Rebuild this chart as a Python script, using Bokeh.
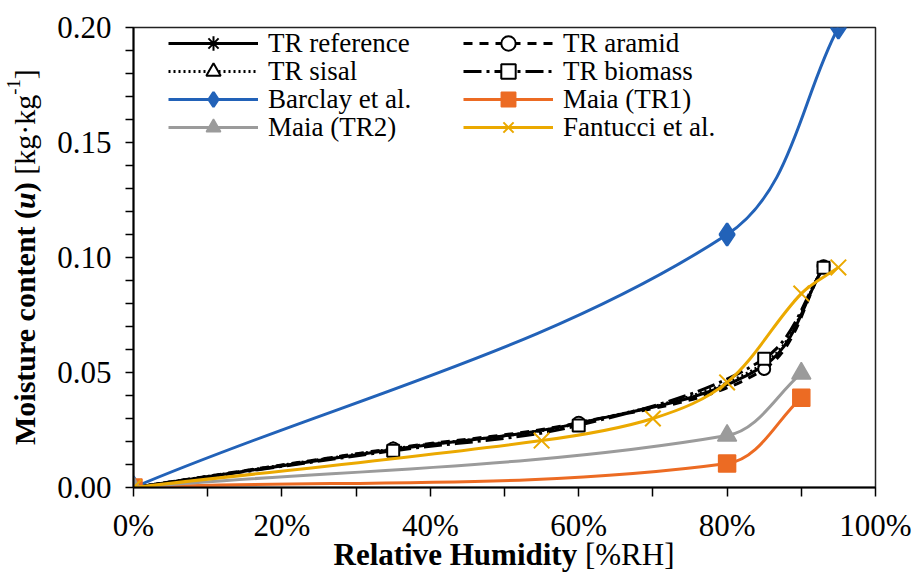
import math
from bokeh.plotting import figure
from bokeh.models import (ColumnDataSource, Legend, LegendItem, FixedTicker,
                          NumeralTickFormatter, Range1d, Div)
from bokeh.layouts import row, column
from bokeh.embed import file_html
from bokeh.resources import INLINE

# ---------------- data ----------------
rh_tr = [0.0, 0.35, 0.60, 0.85, 0.93]
u_tr_reference = [0.0, 0.0165, 0.0280, 0.0530, 0.0960]
u_tr_aramid = [0.0, 0.0170, 0.0282, 0.0515, 0.0962]
u_tr_sisal = [0.0, 0.0168, 0.0279, 0.0540, 0.0958]
u_tr_biomass = [0.0, 0.0160, 0.0270, 0.0560, 0.0955]

rh_barclay = [0.0, 0.80, 0.95]
u_barclay = [0.0, 0.110, 0.200]

rh_maia = [0.0, 0.80, 0.90]
u_maia_tr1 = [0.0, 0.0104, 0.0390]
u_maia_tr2 = [0.0, 0.0226, 0.0496]

rh_fantucci = [0.0, 0.55, 0.70, 0.80, 0.90, 0.95]
u_fantucci = [0.0, 0.0204, 0.0300, 0.0457, 0.0843, 0.0957]

x_ticks = [0.0, 0.2, 0.4, 0.6, 0.8, 1.0]
x_minor = [0.1, 0.3, 0.5, 0.7, 0.9]
y_ticks = [0.0, 0.05, 0.10, 0.15, 0.20]
y_minor = [0.01, 0.02, 0.03, 0.04, 0.06, 0.07, 0.08, 0.09,
           0.11, 0.12, 0.13, 0.14, 0.16, 0.17, 0.18, 0.19]

# ---------------- layout ----------------
YDIV_W = 52
FIG_W, FIG_H = 914 - YDIV_W, 547
XDIV_H = 572 - FIG_H
ML, MR, MT, MB = 133 - YDIV_W, 914 - 875, 27, FIG_H - 487
FW, FH = FIG_W - ML - MR, FIG_H - MT - MB
X0, X1, Y0, Y1 = 0.0, 1.0, 0.0, 0.20
SX, SY = FW / (X1 - X0), FH / (Y1 - Y0)

SERIF = "Liberation Serif"


def smooth_source(xs, ys):
    """Excel-like smoothed line: cubic bezier segments through the data points."""
    px = [x * SX for x in xs]
    py = [y * SY for y in ys]
    n = len(px)
    tang = []
    for i in range(n):
        a = max(i - 1, 0)
        b = min(i + 1, n - 1)
        dx, dy = px[b] - px[a], py[b] - py[a]
        L = math.hypot(dx, dy) or 1.0
        tang.append((dx / L, dy / L))
    d = dict(x0=[], y0=[], x1=[], y1=[], cx0=[], cy0=[], cx1=[], cy1=[])
    for i in range(n - 1):
        seg = math.hypot(px[i + 1] - px[i], py[i + 1] - py[i]) / 3.0
        c0x = px[i] + tang[i][0] * seg
        c0y = py[i] + tang[i][1] * seg
        c1x = px[i + 1] - tang[i + 1][0] * seg
        c1y = py[i + 1] - tang[i + 1][1] * seg
        d["x0"].append(xs[i]); d["y0"].append(ys[i])
        d["x1"].append(xs[i + 1]); d["y1"].append(ys[i + 1])
        d["cx0"].append(c0x / SX); d["cy0"].append(c0y / SY)
        d["cx1"].append(c1x / SX); d["cy1"].append(c1y / SY)
    return ColumnDataSource(d)


p = figure(width=FIG_W, height=FIG_H, output_backend="svg", toolbar_location=None,
           x_range=Range1d(X0, X1), y_range=Range1d(Y0, Y1),
           min_border_left=ML, min_border_right=MR, min_border_top=MT, min_border_bottom=MB)
p.xgrid.visible = False
p.ygrid.visible = False
p.outline_line_color = "#222222"
p.outline_line_width = 1.5
p.background_fill_color = "white"
p.border_fill_color = "white"

for ax in (p.xaxis[0], p.yaxis[0]):
    ax.axis_line_color = "black"
    ax.axis_line_width = 2
    ax.major_tick_line_color = "black"
    ax.minor_tick_line_color = "black"
    ax.major_tick_line_width = 1.5
    ax.minor_tick_line_width = 1.5
    ax.major_tick_in = 0
    ax.minor_tick_in = 0
    ax.major_label_text_font = SERIF
    ax.major_label_text_font_size = "31px"
    ax.major_label_text_color = "black"

p.xaxis[0].ticker = FixedTicker(ticks=x_ticks, minor_ticks=x_minor)
p.xaxis[0].formatter = NumeralTickFormatter(format="0%")
p.xaxis[0].major_tick_out = 9
p.xaxis[0].minor_tick_out = 9
p.xaxis[0].major_label_standoff = 11

p.yaxis[0].ticker = FixedTicker(ticks=y_ticks, minor_ticks=y_minor)
p.yaxis[0].formatter = NumeralTickFormatter(format="0.00")
p.yaxis[0].major_tick_out = 8
p.yaxis[0].minor_tick_out = 8
p.yaxis[0].major_label_standoff = 14

BLACK = "black"
BLUE = "#2262B8"
ORANGE = "#EC6B23"
GRAY = "#9B9B9B"
GOLD = "#EBA900"


def series(xs, ys, color, dash, lw, marker, msize, fill, mlw=1.5):
    src = smooth_source(xs, ys)
    line = p.bezier(x0="x0", y0="y0", x1="x1", y1="y1", cx0="cx0", cy0="cy0",
                    cx1="cx1", cy1="cy1", source=src, line_color=color,
                    line_width=lw, line_dash=dash)
    sc = p.scatter(xs, ys, marker=marker, size=msize, line_color=color,
                   fill_color=fill, line_width=mlw)
    return [line, sc]


r_ref = series(rh_tr, u_tr_reference, BLACK, "solid", 3, "asterisk", 12, BLACK, 2)
r_sis = series(rh_tr, u_tr_sisal, BLACK, "2 3", 3, "triangle", 12, "white", 2)
r_ara = series(rh_tr, u_tr_aramid, BLACK, "9 7", 3, "circle", 12, "white", 2)
r_bio = series(rh_tr, u_tr_biomass, BLACK, "18 5 3 5", 3, "square", 12, "white", 2)
r_bar = series(rh_barclay, u_barclay, BLUE, "solid", 3, "diamond", 22, BLUE, 2.5)
r_m1 = series(rh_maia, u_maia_tr1, ORANGE, "solid", 3, "square", 17, ORANGE)
r_m2 = series(rh_maia, u_maia_tr2, GRAY, "solid", 3, "triangle", 19, GRAY)
r_fan = series(rh_fantucci, u_fantucci, GOLD, "solid", 3, "x", 22, GOLD, 2)

# ---------------- legend: two columns, four rows ----------------
ROW_H = 36
ROW_PITCH = 28
FIRST_ROW_CENTER = 43 - MT          # frame px from the top
COL_X = [35, 330]                   # frame px from the left

legend_cols = [
    [("TR reference", r_ref), ("TR sisal", r_sis),
     ("Barclay et al.", r_bar), ("Maia (TR2)", r_m2)],
    [("TR aramid", r_ara), ("TR biomass", r_bio),
     ("Maia (TR1)", r_m1), ("Fantucci et al.", r_fan)],
]
for ci, col in enumerate(legend_cols):
    for ri, (label, rends) in enumerate(col):
        center = FIRST_ROW_CENTER + ri * ROW_PITCH
        bottom = FH - (center + ROW_H / 2)
        lg = Legend(items=[LegendItem(label=label, renderers=rends)],
                    location=(COL_X[ci], bottom), orientation="vertical",
                    padding=0, margin=0, spacing=0, glyph_width=90,
                    glyph_height=ROW_H, label_height=ROW_H, label_standoff=10,
                    label_text_font=SERIF, label_text_font_size="27px",
                    label_text_color="black", border_line_alpha=0,
                    background_fill_alpha=0)
        p.add_layout(lg, "center")

# ---------------- axis titles (mixed bold / regular), as HTML text ----------------
y_title_html = (
    f'<div style="margin:0;padding:0;width:{YDIV_W}px;height:{2 * 257}px;'
    f'writing-mode:vertical-rl;transform:translateX(-12px) rotate(180deg);text-align:center;'
    f'line-height:{YDIV_W}px;font-family:\'{SERIF}\';font-size:30px;color:black;'
    f'white-space:nowrap;">'
    '<b>Moisture content (<i>u</i>)</b> [kg&middot;kg<sup style="font-size:0.62em;">-1</sup>]'
    '</div>'
)
x_title_html = (
    f'<div style="margin:0;padding:0 0 0 {2 * (504 - (YDIV_W + FIG_W / 2))}px;'
    f'width:{FIG_W}px;box-sizing:border-box;text-align:center;line-height:16px;'
    f'font-family:\'{SERIF}\';font-size:31px;color:black;white-space:nowrap;">'
    '<b>Relative Humidity</b> [%RH]</div>'
)
ydiv = Div(text=y_title_html, width=YDIV_W, height=572, margin=0)
xdiv = Div(text=x_title_html, width=FIG_W, height=XDIV_H, margin=0)

layout = row(ydiv, column(p, xdiv, spacing=0), spacing=0)

open("out.html", "w").write(file_html(layout, INLINE))
